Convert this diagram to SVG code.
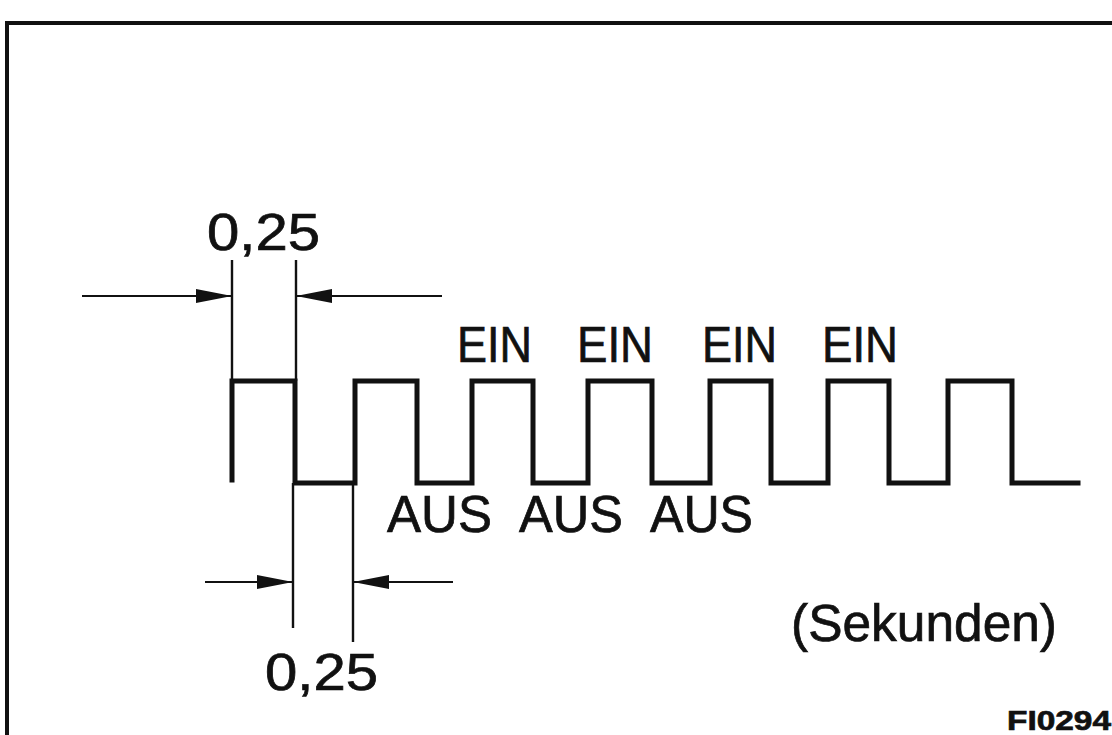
<svg xmlns="http://www.w3.org/2000/svg" width="1112" height="735" viewBox="0 0 1112 735">
<defs>
<style>
.frame{fill:none;stroke:#111;stroke-width:4}
.wave{fill:none;stroke:#111;stroke-width:5;stroke-linejoin:miter;stroke-linecap:square}
.ext{fill:none;stroke:#111;stroke-width:2.4}
.dim{fill:none;stroke:#111;stroke-width:1.8}
.t{font-family:"Liberation Sans",Arial,sans-serif;fill:#111;stroke:#111;stroke-width:0.7}
</style>
<marker id="ah" viewBox="0 0 36 16" refX="36" refY="8" markerWidth="36" markerHeight="16" markerUnits="userSpaceOnUse" orient="auto">
<path d="M0,1 L36,8 L0,15 Z" fill="#111"/>
</marker>
</defs>
<rect width="1112" height="735" fill="#fff"/>
<g id="frame">
<path class="frame" d="M7,735 L7,23 L1112,23"/>
</g>
<g id="waveform">
<path class="wave" d="M232,480 L232,381 L295,381 L295,483 L355,483 L355,381 L417,381 L417,483 L472,483 L472,381 L533,381 L533,483 L588,483 L588,381 L652,381 L652,483 L710,483 L710,381 L771,381 L771,483 L828,483 L828,381 L889,381 L889,483 L948,483 L948,381 L1012,381 L1012,483 L1078,483"/>
</g>
<g id="connectors">
<path class="ext" d="M232,260 L232,381 M296,260 L296,381"/>
<path class="ext" d="M293,483 L293,628 M353,483 L353,642"/>
<line class="dim" x1="82" y1="296" x2="232" y2="296" marker-end="url(#ah)"/>
<line class="dim" x1="442" y1="296" x2="296" y2="296" marker-end="url(#ah)"/>
<line class="dim" x1="205" y1="582" x2="293" y2="582" marker-end="url(#ah)"/>
<line class="dim" x1="453" y1="582" x2="353" y2="582" marker-end="url(#ah)"/>
</g>
<g id="labels">
<text class="t" x="207" y="250" font-size="52" textLength="113" lengthAdjust="spacingAndGlyphs">0,25</text>
<text class="t" x="265" y="690" font-size="52" textLength="113" lengthAdjust="spacingAndGlyphs">0,25</text>
<text class="t" x="457" y="362" font-size="50" textLength="75" lengthAdjust="spacingAndGlyphs">EIN</text>
<text class="t" x="577" y="362" font-size="50" textLength="76" lengthAdjust="spacingAndGlyphs">EIN</text>
<text class="t" x="702" y="362" font-size="50" textLength="75" lengthAdjust="spacingAndGlyphs">EIN</text>
<text class="t" x="822" y="362" font-size="50" textLength="76" lengthAdjust="spacingAndGlyphs">EIN</text>
<text class="t" x="387" y="532" font-size="51" textLength="105" lengthAdjust="spacingAndGlyphs">AUS</text>
<text class="t" x="519" y="532" font-size="51" textLength="104" lengthAdjust="spacingAndGlyphs">AUS</text>
<text class="t" x="650" y="532" font-size="51" textLength="103" lengthAdjust="spacingAndGlyphs">AUS</text>
<text class="t" x="791" y="641" font-size="51" textLength="266" lengthAdjust="spacingAndGlyphs">(Sekunden)</text>
<text class="t" x="1007" y="730" font-size="28" font-weight="bold" textLength="104" lengthAdjust="spacingAndGlyphs">FI0294</text>
</g>
</svg>
